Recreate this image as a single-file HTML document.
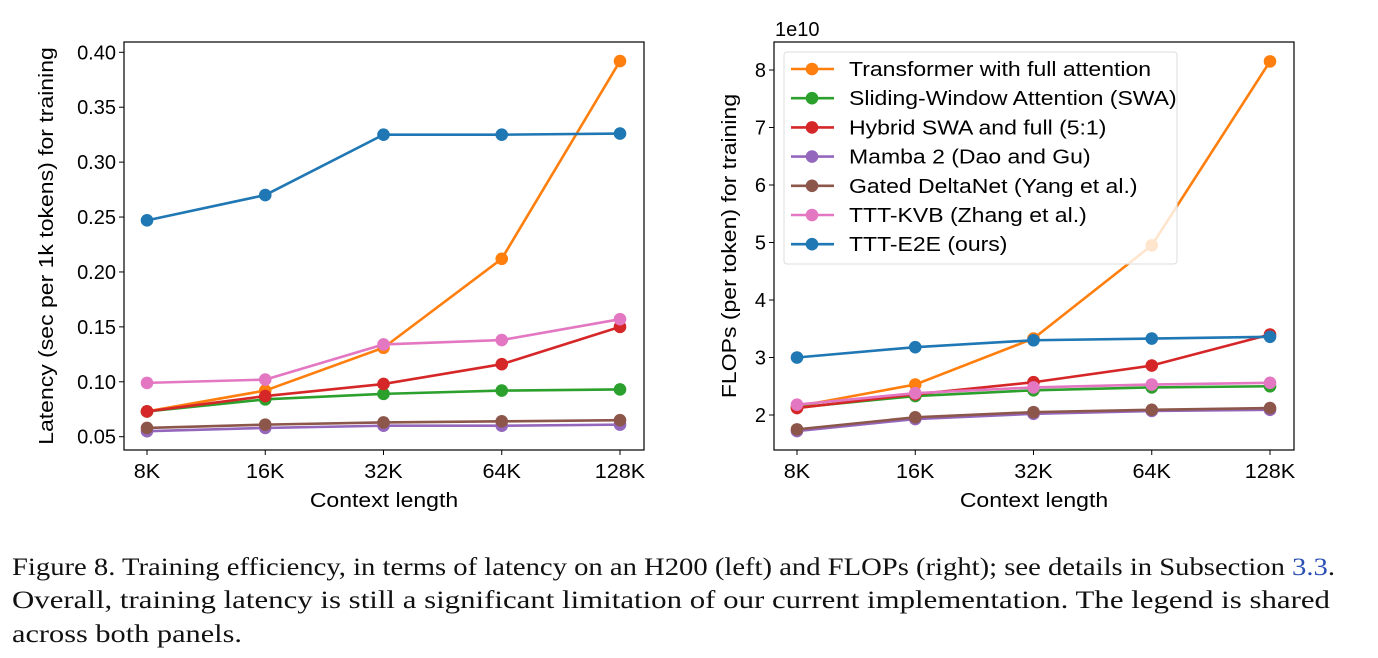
<!DOCTYPE html>
<html><head><meta charset="utf-8"><style>
html,body{margin:0;padding:0;background:#fff;}
svg{display:block;}
</style></head><body>
<svg id="fig" width="1378" height="658" viewBox="0 0 1378 658" xmlns="http://www.w3.org/2000/svg" font-family="'Liberation Sans', sans-serif">
<g id="left"></g>
<g id="right"></g>
<g font-family="'Liberation Serif', serif" font-size="25" fill="#111">
<text x="12" y="575" textLength="1323" lengthAdjust="spacingAndGlyphs">Figure 8. Training efficiency, in terms of latency on an H200 (left) and FLOPs (right); see details in Subsection <tspan fill="#2a4fb5">3.3</tspan>.</text>
<text x="12" y="608" textLength="1318" lengthAdjust="spacingAndGlyphs">Overall, training latency is still a significant limitation of our current implementation. The legend is shared</text>
<text x="12" y="642" textLength="230" lengthAdjust="spacingAndGlyphs">across both panels.</text>
</g>
</svg>
<script>
const categories = ["8K","16K","32K","64K","128K"];
const seriesNames = ["Transformer with full attention","Sliding-Window Attention (SWA)","Hybrid SWA and full (5:1)","Mamba 2 (Dao and Gu)","Gated DeltaNet (Yang et al.)","TTT-KVB (Zhang et al.)","TTT-E2E (ours)"];
const seriesColors = ["#ff7f0e","#2ca02c","#d62728","#9467bd","#8c564b","#e377c2","#1f77b4"];
const latFull = [0.073,0.092,0.131,0.212,0.392];
const latSWA = [0.073,0.084,0.089,0.092,0.093];
const latHybrid = [0.073,0.087,0.098,0.116,0.150];
const latMamba = [0.055,0.058,0.060,0.060,0.061];
const latGDN = [0.058,0.061,0.063,0.064,0.065];
const latKVB = [0.099,0.102,0.134,0.138,0.157];
const latE2E = [0.247,0.270,0.325,0.325,0.326];
const flopFull = [2.15,2.53,3.33,4.95,8.15];
const flopSWA = [2.13,2.33,2.43,2.48,2.50];
const flopHybrid = [2.12,2.36,2.57,2.86,3.40];
const flopMamba = [1.72,1.93,2.02,2.07,2.09];
const flopGDN = [1.75,1.96,2.05,2.09,2.12];
const flopKVB = [2.18,2.38,2.48,2.53,2.56];
const flopE2E = [3.00,3.18,3.30,3.33,3.36];
const latTicks = [0.05,0.10,0.15,0.20,0.25,0.30,0.35,0.40];
const latTickLabels = ["0.05","0.10","0.15","0.20","0.25","0.30","0.35","0.40"];
const flopTicks = [2,3,4,5,6,7,8];
const flopTickLabels = ["2","3","4","5","6","7","8"];

const NS="http://www.w3.org/2000/svg";
const FS=20;
const STRETCH=1.15;
function mk(tag, attrs, parent){const e=document.createElementNS(NS,tag);for(const k in attrs)e.setAttribute(k,attrs[k]);parent.appendChild(e);return e;}
function stretch(t,f){const L=t.getComputedTextLength();t.setAttribute("textLength",L*f);t.setAttribute("lengthAdjust","spacingAndGlyphs");}

function drawChart(g, cfg){
  const xS=i=>cfg.x0+i*(cfg.x1-cfg.x0)/(categories.length-1);
  const yS=v=>cfg.ya+(v-cfg.va)*(cfg.yb-cfg.ya)/(cfg.vb-cfg.va);
  cfg.series.forEach((vals,si)=>{
    const pts=vals.map((v,i)=>xS(i)+","+yS(v)).join(" ");
    const pl=mk("polyline",{points:pts,fill:"none",stroke:seriesColors[si],"stroke-width":2.6,"stroke-linejoin":"round"},g);
    
    
    vals.forEach((v,i)=>{
      const c=mk("circle",{cx:xS(i),cy:yS(v),r:6.3,fill:seriesColors[si]},g);
      
      
    });
  });
  const fr=mk("rect",{x:cfg.fl,y:cfg.ft,width:cfg.fr-cfg.fl,height:cfg.fb-cfg.ft,fill:"none",stroke:"#000","stroke-width":1.2},g);
  
  
  categories.forEach((c,i)=>{
    mk("line",{x1:xS(i),x2:xS(i),y1:cfg.fb,y2:cfg.fb+5,stroke:"#000","stroke-width":1},g);
    const t=mk("text",{x:xS(i),y:cfg.fb+28,"text-anchor":"middle","font-size":FS,fill:"#000"},g);
    t.textContent=c;
    
    
    stretch(t,1.08);
  });
  cfg.ticks.forEach((v,i)=>{
    mk("line",{x1:cfg.fl-5,x2:cfg.fl,y1:yS(v),y2:yS(v),stroke:"#000","stroke-width":1},g);
    const t=mk("text",{x:cfg.fl-8,y:yS(v)+7,"text-anchor":"end","font-size":FS,fill:"#000"},g);
    t.textContent=cfg.tickLabels[i];
    
    
  });
  const xt=mk("text",{x:(cfg.fl+cfg.fr)/2,y:507,"text-anchor":"middle","font-size":FS,fill:"#000"},g);
  xt.textContent="Context length";
  
  
  stretch(xt,STRETCH);
  const yc=(cfg.ft+cfg.fb)/2;
  const yt=mk("text",{x:cfg.ytx,y:yc,"text-anchor":"middle","font-size":FS,fill:"#000",transform:"rotate(-90 "+cfg.ytx+" "+yc+")"},g);
  yt.textContent=cfg.ytitle;
  
  
  stretch(yt,STRETCH);
}

drawChart(document.getElementById("left"),{
  x0:147,x1:620,ya:436.7,yb:52.3,va:0.05,vb:0.40,fl:124,fr:644,ft:42,fb:450,
  series:[latFull,latSWA,latHybrid,latMamba,latGDN,latKVB,latE2E],
  ticks:latTicks,tickLabels:latTickLabels,ytx:53,ytitle:"Latency (sec per 1k tokens) for training"});
const R=document.getElementById("right");
drawChart(R,{
  x0:797,x1:1270,ya:415,yb:70,va:2,vb:8,fl:774,fr:1294,ft:42,fb:450,
  series:[flopFull,flopSWA,flopHybrid,flopMamba,flopGDN,flopKVB,flopE2E],
  ticks:flopTicks,tickLabels:flopTickLabels,ytx:736,ytitle:"FLOPs (per token) for training"});
const ex=mk("text",{x:775,y:36,"font-size":FS,fill:"#000"},R);
ex.textContent="1e10";


const lg=mk("g",{},R);


mk("rect",{x:784,y:52,width:393,height:212,rx:3,fill:"#fff","fill-opacity":0.8,stroke:"#ddd","stroke-width":1},lg);
seriesNames.forEach((n,i)=>{
  const y=69+i*29.2;
  const e=mk("g",{},lg);
  
  
  mk("line",{x1:791,x2:834,y1:y,y2:y,stroke:seriesColors[i],"stroke-width":2.6},e);
  mk("circle",{cx:812,cy:y,r:6.3,fill:seriesColors[i]},e);
  const t=mk("text",{x:849,y:y+7,"font-size":FS,fill:"#000"},e);
  t.textContent=n;
  stretch(t,STRETCH);
});
</script>
</body></html>
